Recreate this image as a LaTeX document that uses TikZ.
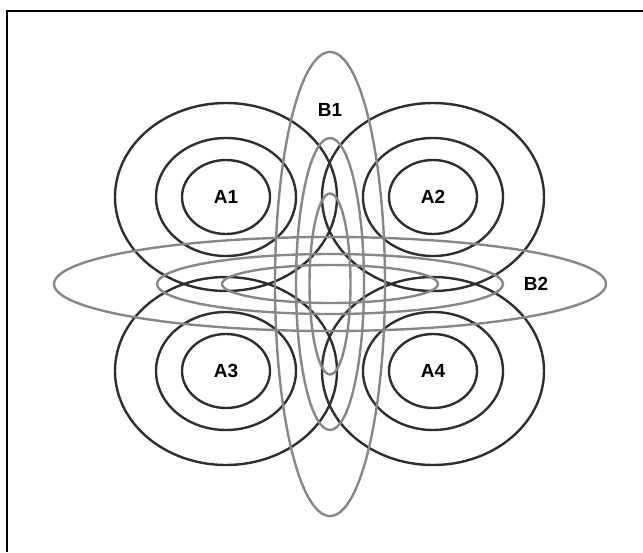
\documentclass[tikz,border=0pt]{standalone}
\usepackage{fontspec}
\setmainfont{Liberation Sans}
\definecolor{darkc}{HTML}{2E2E2E}
\definecolor{grayc}{HTML}{878787}
\begin{document}
\begin{tikzpicture}[x=1pt,y=-1pt,
  ring/.style={draw=darkc,line width=2.4pt},
  band/.style={draw=grayc,line width=2.4pt},
  lbl/.style={font=\bfseries\fontsize{19}{21}\selectfont,text=black,inner sep=0pt}]
\useasboundingbox (0,0) rectangle (643,552);
\draw[line width=2pt,black] (7,552) -- (7,11) -- (643,11);
% A groups
\foreach \cx/\cy in {226/197,433/197,226/371,433/371}{
  \draw[ring] (\cx,\cy) ellipse [x radius=111, y radius=94];
  \draw[ring] (\cx,\cy) ellipse [x radius=70, y radius=59];
  \draw[ring] (\cx,\cy) ellipse [x radius=44, y radius=37];
}
% B1 vertical
\draw[band] (330,284) ellipse [x radius=55, y radius=232];
\draw[band] (330,284) ellipse [x radius=34, y radius=146];
\draw[band] (330,284) ellipse [x radius=20.5, y radius=90.5];
% B2 horizontal
\draw[band] (330,284) ellipse [x radius=276, y radius=47];
\draw[band] (330,284) ellipse [x radius=173, y radius=30];
\draw[band] (330,284) ellipse [x radius=108, y radius=19];
% labels
\node[lbl] (a1) at (226,197) {A1};
\node[lbl] (a2) at (433,197) {A2};
\node[lbl] (a3) at (226,371) {A3};
\node[lbl] (a4) at (433,371) {A4};
\node[lbl] (b1) at (330,110) {B1};
\node[lbl] (b2) at (536,284) {B2};
\end{tikzpicture}
\end{document}
